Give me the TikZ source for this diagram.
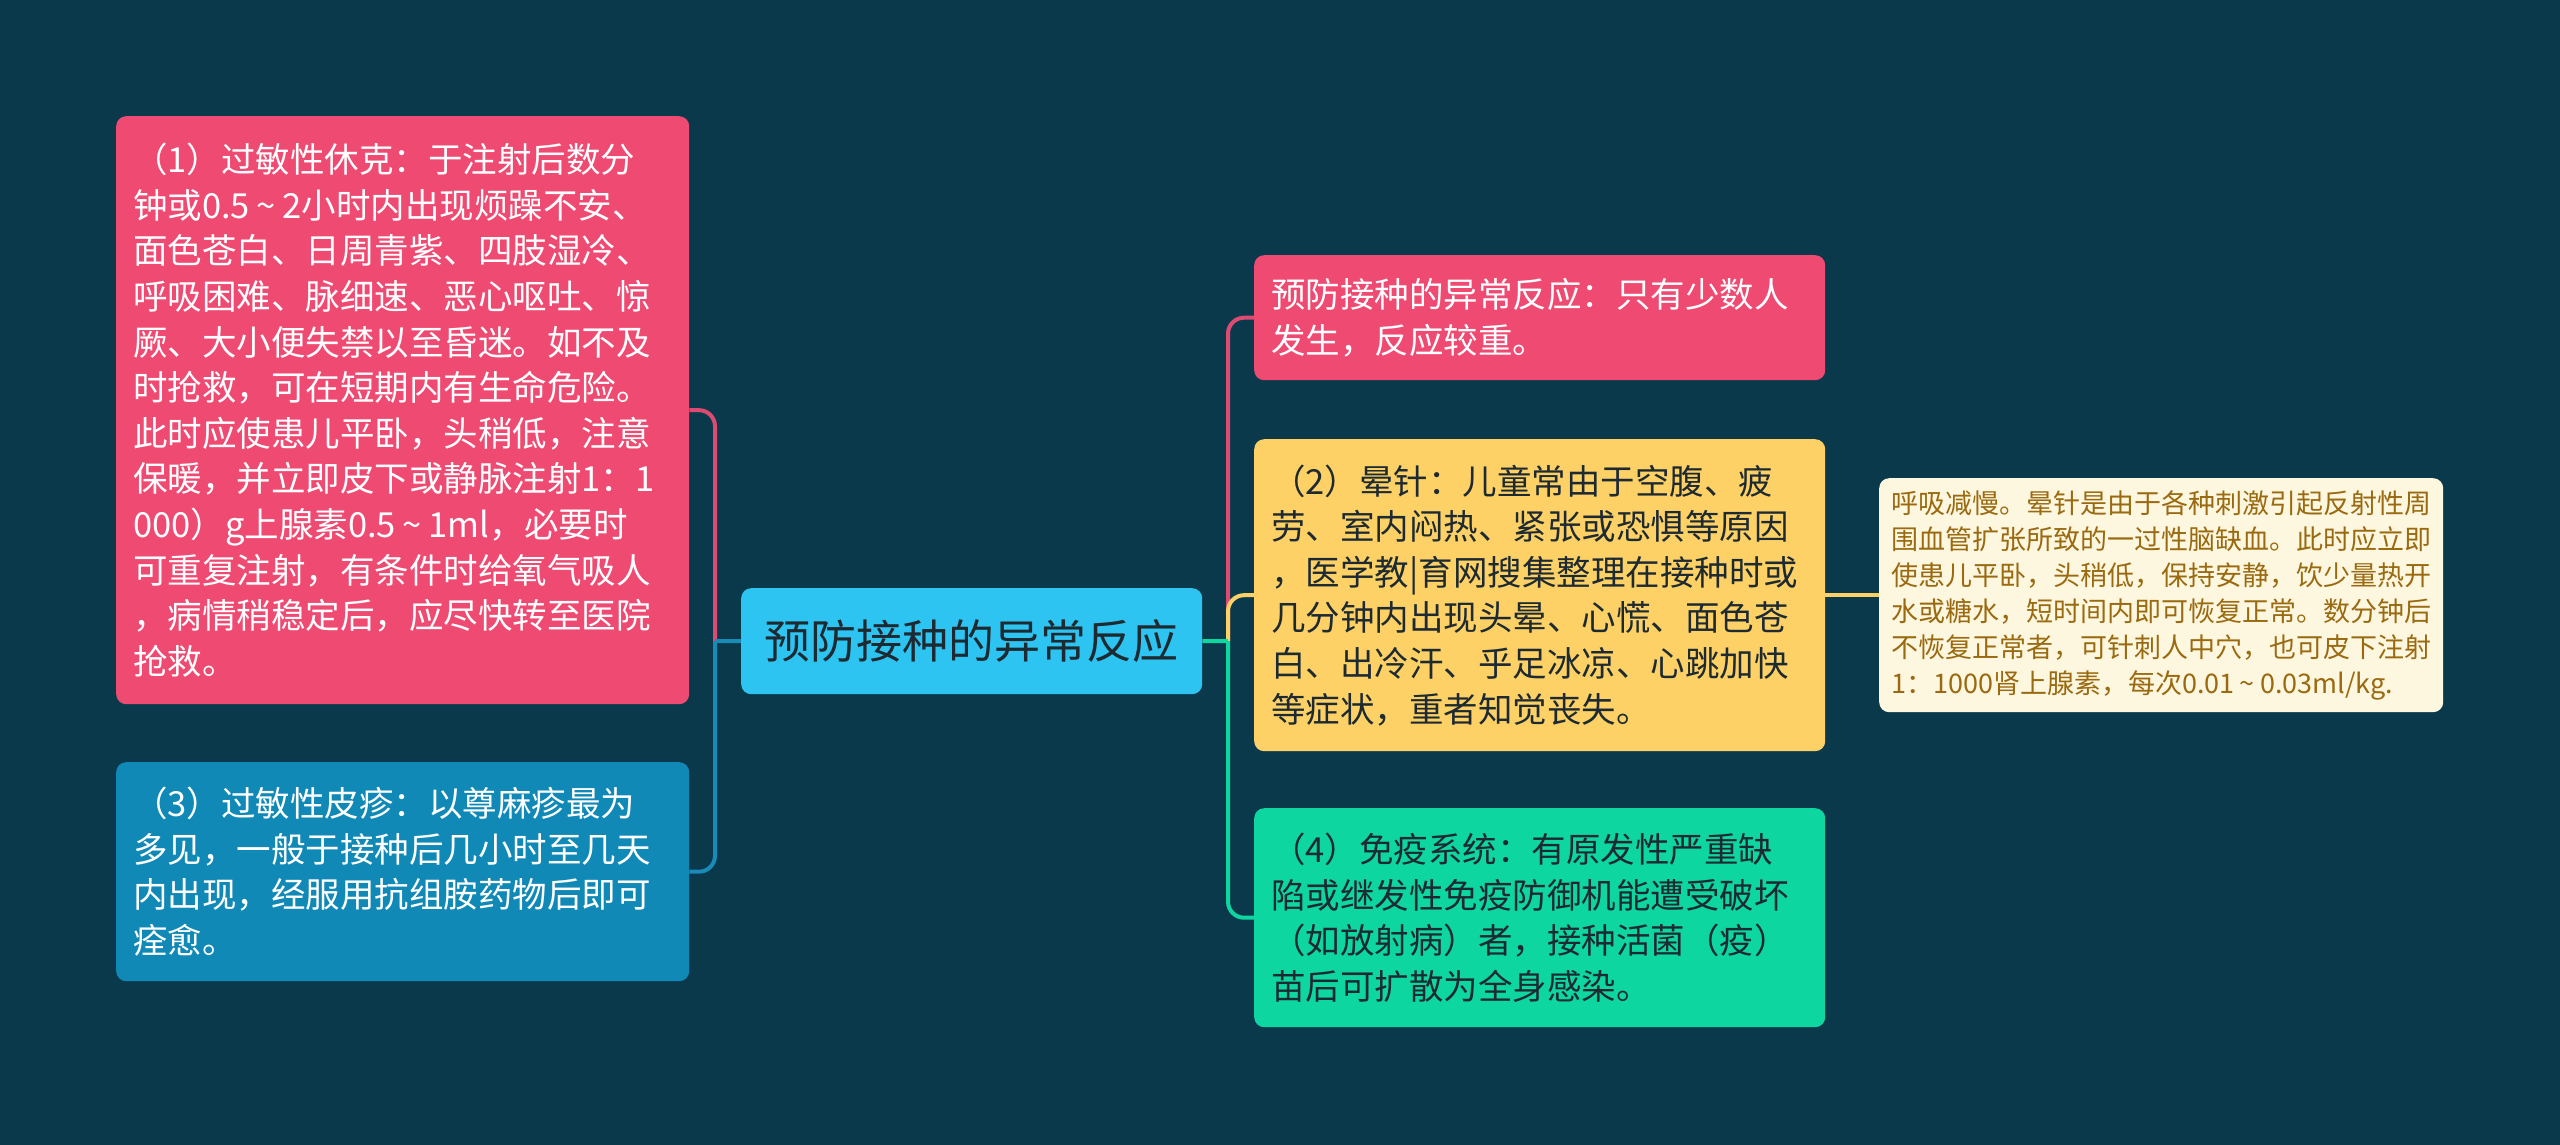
\documentclass[tikz,border=0pt]{standalone}
\usepackage{fontspec}
\setmainfont{Noto Sans CJK SC}
\definecolor{bgc}{HTML}{0A394C}
\definecolor{redn}{HTML}{EF4A72}
\definecolor{redl}{HTML}{DD4A72}
\definecolor{bluen}{HTML}{1089B6}
\definecolor{bluel}{HTML}{1A8AB6}
\definecolor{centn}{HTML}{2EC4F2}
\definecolor{yelln}{HTML}{FDD166}
\definecolor{greenn}{HTML}{0DD6A0}
\definecolor{creamn}{HTML}{FEF7E0}
\definecolor{creamt}{HTML}{9A6A10}
\definecolor{darkt}{HTML}{1E2A31}
\newcommand{\tld}{\makebox[0.95em]{\textasciitilde}}
\tikzset{
  box/.style={rounded corners=10pt, anchor=north west, inner xsep=17pt, inner ysep=0pt, align=left},
  bigtext/.style={font=\fontsize{34.5}{45.6}\selectfont},
  smalltext/.style={font=\fontsize{27}{36}\selectfont},
  conn/.style={line width=4pt, rounded corners=16pt},
}
\begin{document}
\begin{tikzpicture}[x=1pt,y=-1pt]
\useasboundingbox[fill=bgc] (0,0) rectangle (2560,1145);

% nodes
\node[box, bigtext, fill=redn, text=white, minimum width=573pt, minimum height=588pt, text width=539pt] (n1) at (116,116)
{（1）过敏性休克：于注射后数分\\钟或0.5\tld 2小时内出现烦躁不安、\\面色苍白、日周青紫、四肢湿冷、\\呼吸困难、脉细速、恶心呕吐、惊\\厥、大小便失禁以至昏迷。如不及\\时抢救，可在短期内有生命危险。\\此时应使患儿平卧，头稍低，注意\\保暖，并立即皮下或静脉注射1：1\\000）g上腺素0.5\tld 1ml，必要时\\可重复注射，有条件时给氧气吸人\\，病情稍稳定后，应尽快转至医院\\抢救。};

\node[box, bigtext, fill=bluen, text=white, minimum width=573pt, minimum height=219pt, text width=539pt] (n3) at (116,762)
{（3）过敏性皮疹：以尊麻疹最为\\多见，一般于接种后几小时至几天\\内出现，经服用抗组胺药物后即可\\痊愈。};

\node[rounded corners=10pt, anchor=north west, fill=centn, text=darkt, font=\fontsize{46}{56}\selectfont, minimum width=461pt, minimum height=106pt, inner sep=0pt] (c) at (741,588) {预防接种的异常反应};

\node[box, bigtext, fill=redn, text=white, minimum width=571pt, minimum height=125pt, text width=537pt] (r1) at (1254,255)
{预防接种的异常反应：只有少数人\\发生，反应较重。};

\node[box, bigtext, fill=yelln, text=darkt, minimum width=571pt, minimum height=312pt, text width=537pt] (y) at (1254,439)
{（2）晕针：儿童常由于空腹、疲\\劳、室内闷热、紧张或恐惧等原因\\，医学教|育网搜集整理在接种时或\\几分钟内出现头晕、心慌、面色苍\\白、出冷汗、乎足冰凉、心跳加快\\等症状，重者知觉丧失。};

\node[box, bigtext, fill=greenn, text=darkt, minimum width=571pt, minimum height=219pt, text width=537pt] (g) at (1254,808)
{（4）免疫系统：有原发性严重缺\\陷或继发性免疫防御机能遭受破坏\\（如放射病）者，接种活菌（疫）\\苗后可扩散为全身感染。};

\node[box, smalltext, fill=creamn, text=creamt, inner xsep=12pt, minimum width=564pt, minimum height=234pt, text width=540pt] (cr) at (1879,478)
{呼吸减慢。晕针是由于各种刺激引起反射性周\\围血管扩张所致的一过性脑缺血。此时应立即\\使患儿平卧，头稍低，保持安静，饮少量热开\\水或糖水，短时间内即可恢复正常。数分钟后\\不恢复正常者，可针刺人中穴，也可皮下注射\\1：1000肾上腺素，每次0.01\tld 0.03ml/kg.};

% junctions
\coordinate (jl) at (715,641);
\coordinate (jr) at (1228,641);

% left connectors
\draw[conn, redl] (jl) |- (n1.east);
\draw[conn, bluel] (jl) |- (n3.east);
\draw[line width=4pt, bluel] (c.west) -- (jl);

% right connectors
\draw[conn, redl] (jr) |- (r1.west);
\draw[conn, yelln] (jr) |- (y.west);
\draw[conn, greenn] (jr) |- (g.west);
\draw[line width=4pt, greenn] (c.east) -- (jr);

% yellow to cream
\draw[line width=4pt, yelln] (y.east) -- (cr.west);
\end{tikzpicture}
\end{document}
